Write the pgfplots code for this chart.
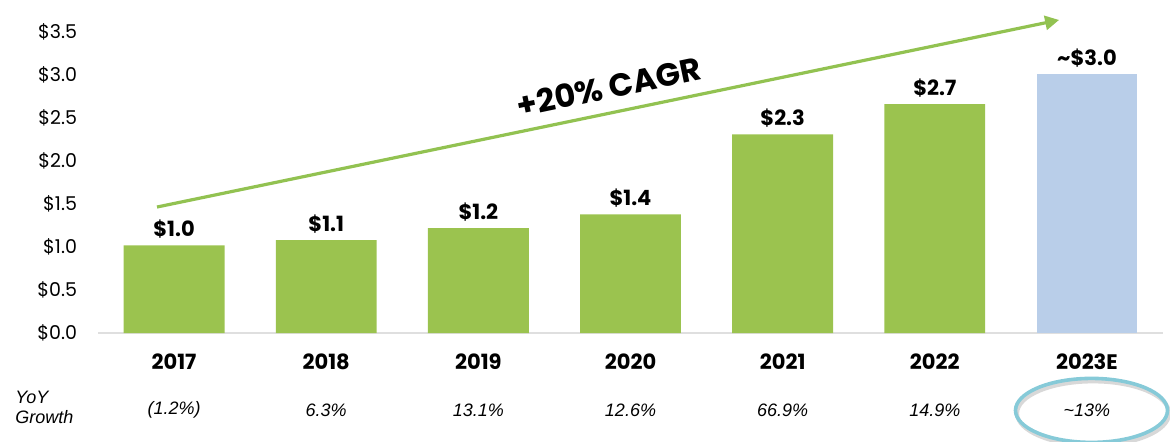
\documentclass[border=0pt]{standalone}
\usepackage{fontspec}
\setmainfont{Poppins}
\newfontfamily\arialfont{Liberation Sans}
\usepackage{pgfplots}
\pgfplotsset{compat=1.18}
\usetikzlibrary{arrows.meta}
\definecolor{barg}{HTML}{9BC34F}
\definecolor{barb}{HTML}{B9CEE9}
\definecolor{arrg}{HTML}{92C251}
\definecolor{ell}{HTML}{86CAD8}
\begin{document}
\begin{tikzpicture}
\useasboundingbox (0,0) rectangle (585pt,220.5pt);
\begin{axis}[
  at={(49pt,54pt)}, anchor=south west,
  scale only axis, width=532.5pt, height=150.5pt,
  xmin=-0.5, xmax=6.5, ymin=0, ymax=3.5,
  clip=false,
  axis line style={draw=none},
  major tick length=0pt,
  ytick={0,0.5,1,1.5,2,2.5,3,3.5},
  yticklabel={\$\pgfmathprintnumber[fixed,fixed zerofill,precision=1,assume math mode=true]{\tick}},
  yticklabel style={font=\fontsize{9.5}{11}\selectfont, xshift=-7pt},
  xtick={0,1,2,3,4,5,6},
  xticklabels={2017,2018,2019,2020,2021,2022,2023E},
  xticklabel style={font=\bfseries\fontsize{10.5}{12}\selectfont, yshift=-7pt},
]
\draw[gray!25, line width=0.8pt] (axis cs:-0.5,0) -- (axis cs:6.5,0);
\addplot[ybar, bar shift=0pt, bar width=0.663, fill=barg, draw=none,
  nodes near coords, point meta=explicit symbolic,
  every node near coord/.append style={font=\bfseries\fontsize{10.5}{12}\selectfont, anchor=south, yshift=0pt, text=black}]
  coordinates {(0,1.02)[\$1.0] (1,1.08)[\$1.1] (2,1.22)[\$1.2] (3,1.38)[\$1.4] (4,2.31)[\$2.3] (5,2.66)[\$2.7]};
\addplot[ybar, bar shift=0pt, bar width=0.663, fill=barb, draw=none,
  nodes near coords, point meta=explicit symbolic,
  every node near coord/.append style={font=\bfseries\fontsize{10.5}{12}\selectfont, anchor=south, yshift=0pt, text=black}]
  coordinates {(6,3.01)[\textasciitilde\$3.0]};
\addplot[draw=arrg, line width=1.6pt, -{Triangle[length=7pt,width=7pt]}]
  coordinates {(-0.112,1.465) (5.817,3.64)};
\node[rotate=11.8, inner sep=0pt, font=\bfseries\fontsize{16}{18}\selectfont] at (axis cs:2.856,2.86) {+20\% CAGR};
\node[anchor=west, align=left, inner sep=0pt, font=\arialfont\itshape\fontsize{9}{10}\selectfont] at (axis cs:-1.046,-0.87) {YoY\\Growth};
\node[font=\arialfont\itshape\fontsize{9}{10}\selectfont] at (axis cs:0,-0.895) {(1.2\%)};
\node[font=\arialfont\itshape\fontsize{9}{10}\selectfont] at (axis cs:1,-0.895) {6.3\%};
\node[font=\arialfont\itshape\fontsize{9}{10}\selectfont] at (axis cs:2,-0.895) {13.1\%};
\node[font=\arialfont\itshape\fontsize{9}{10}\selectfont] at (axis cs:3,-0.895) {12.6\%};
\node[font=\arialfont\itshape\fontsize{9}{10}\selectfont] at (axis cs:4,-0.895) {66.9\%};
\node[font=\arialfont\itshape\fontsize{9}{10}\selectfont] at (axis cs:5,-0.895) {14.9\%};
\node[font=\arialfont\itshape\fontsize{9}{10}\selectfont] at (axis cs:6,-0.895) {\textasciitilde13\%};
\draw[gray!60, opacity=0.5, line width=2pt] ([xshift=0.8pt,yshift=-1.5pt]axis cs:6.03,-0.9) ellipse [x radius=38pt, y radius=16pt];
\draw[ell, line width=1.8pt] (axis cs:6.03,-0.9) ellipse [x radius=38pt, y radius=16pt];
\end{axis}
\end{tikzpicture}
\end{document}
